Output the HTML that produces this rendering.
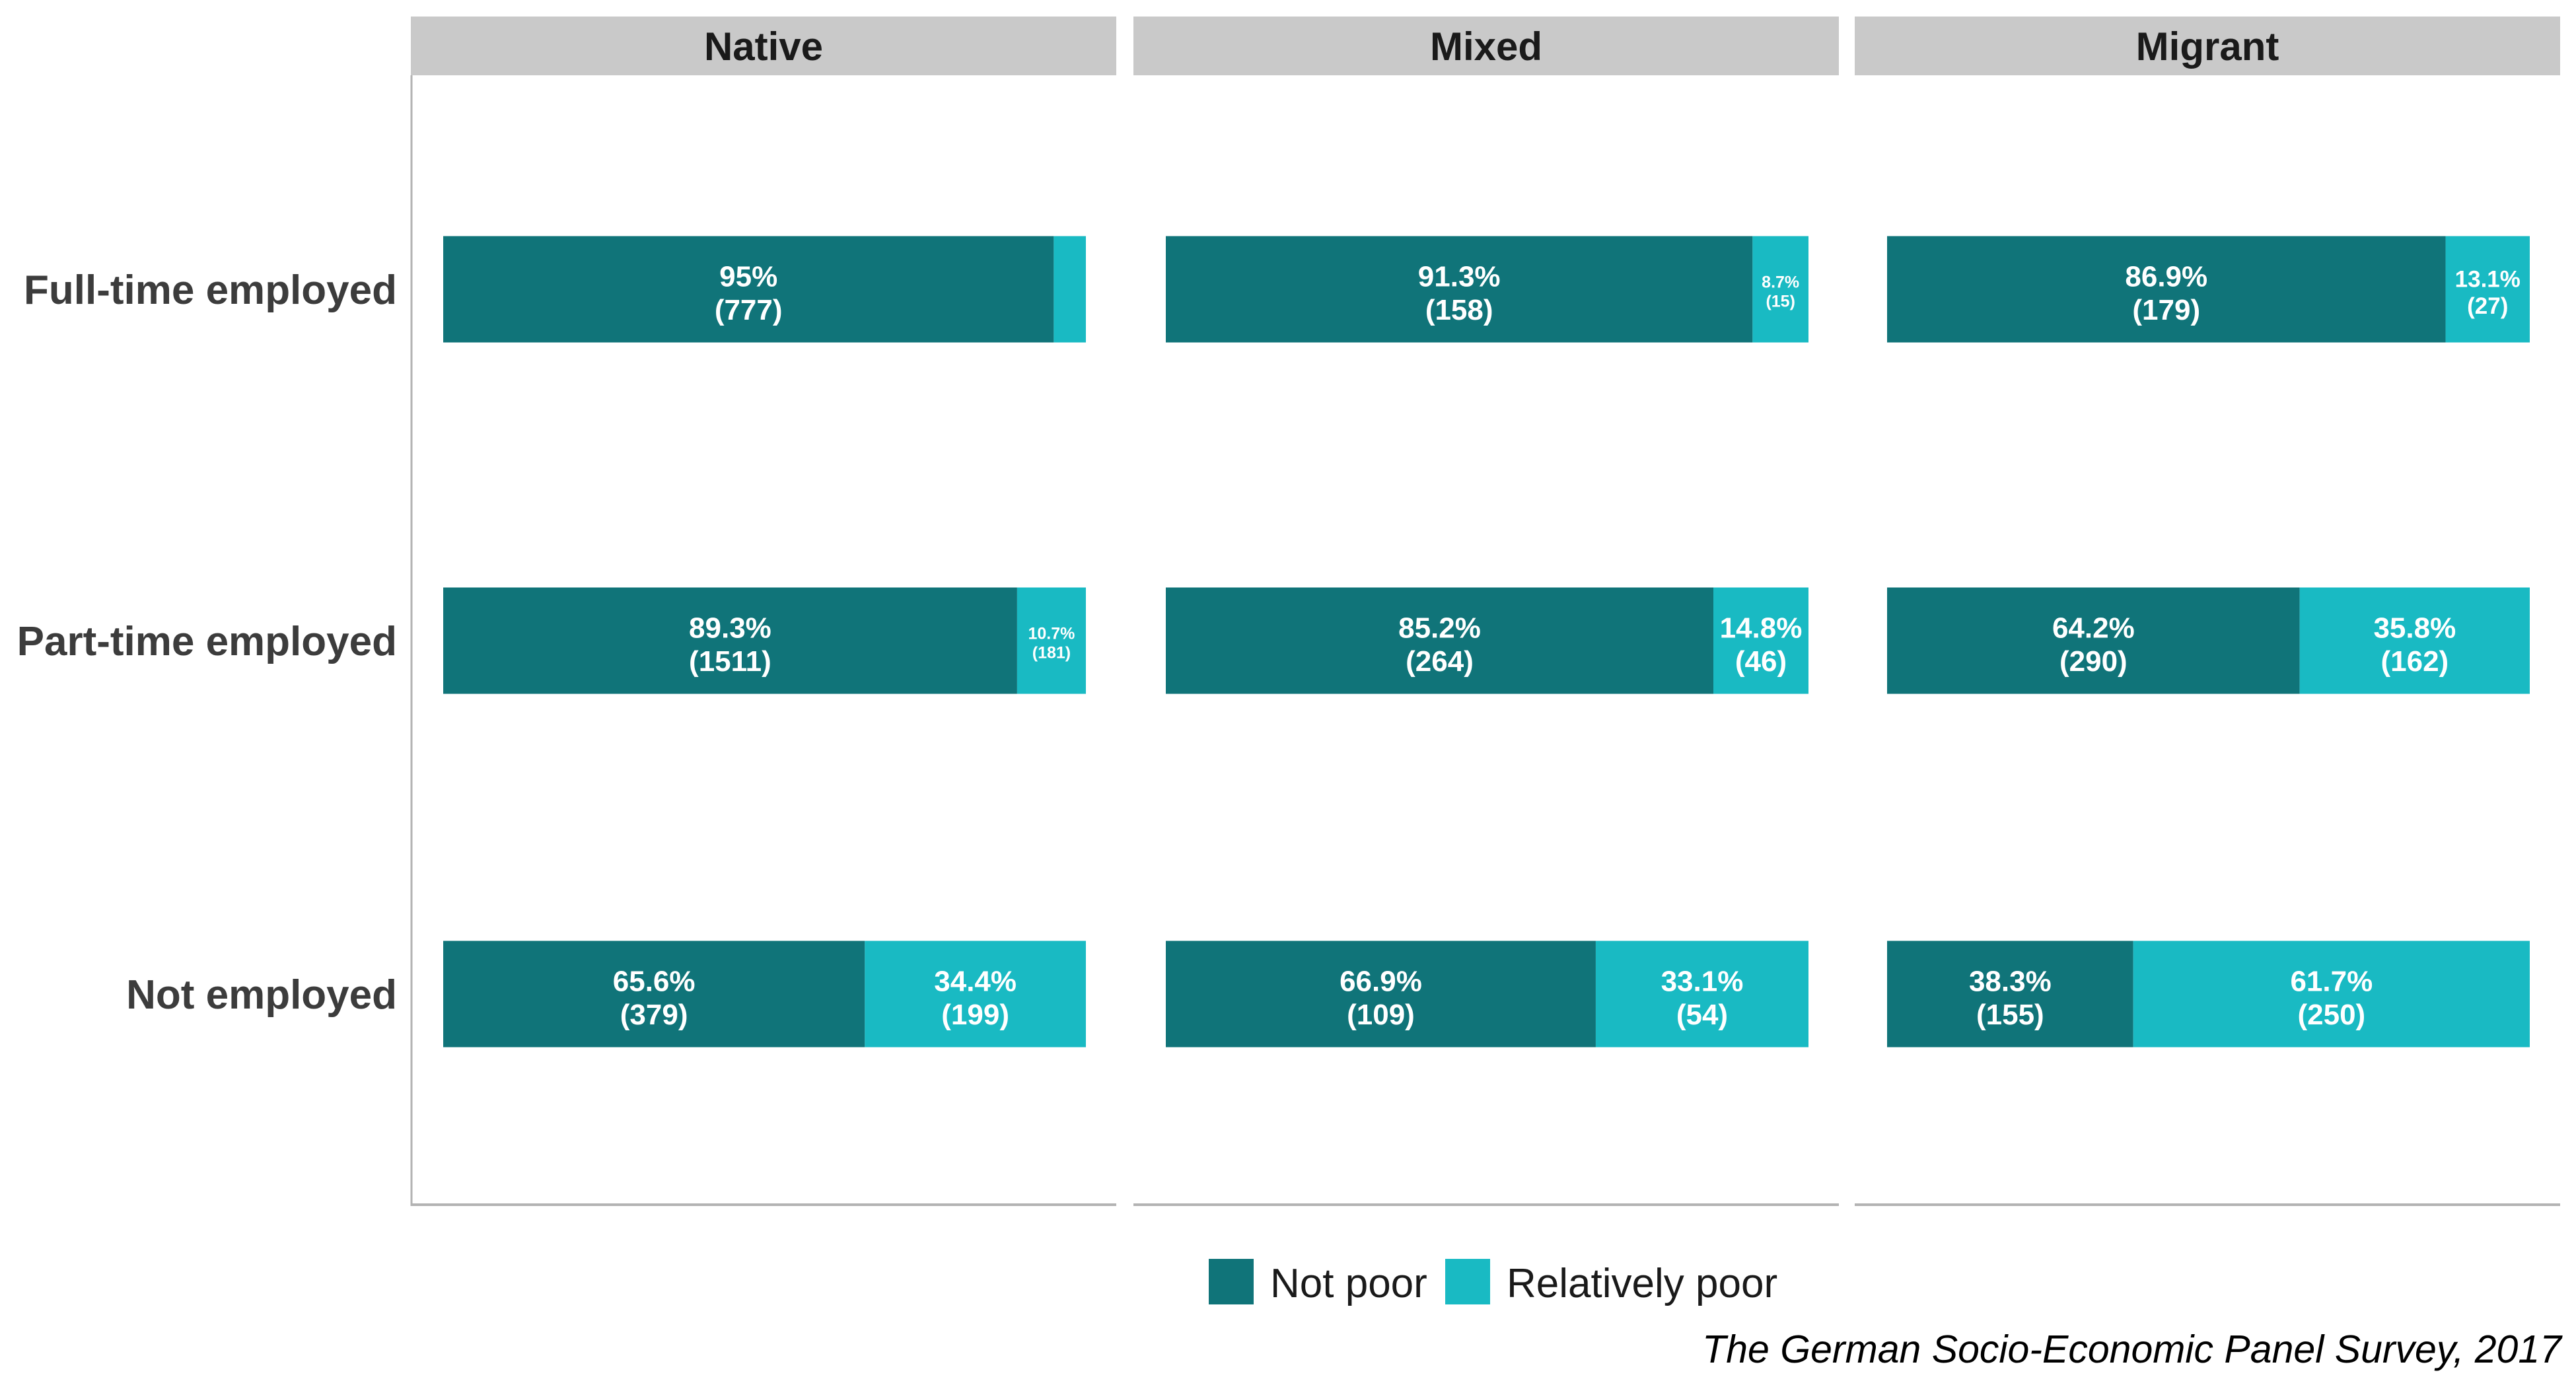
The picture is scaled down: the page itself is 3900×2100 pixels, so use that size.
<!DOCTYPE html>
<html><head><meta charset="utf-8"><style>
body{margin:0;background:#fff;}
svg{display:block;font-family:"Liberation Sans",sans-serif;}
</style></head><body>
<svg id="chart" width="3900" height="2100" viewBox="0 0 3900 2100" xmlns="http://www.w3.org/2000/svg">
<g id="panels"></g>
<g id="ylabels"></g>
<g>
 <rect x="1830" y="1906" width="68" height="69" fill="#107479"/>
 <text x="1923" y="1964" font-size="62" fill="#1a1a1a">Not poor</text>
 <rect x="2188" y="1906" width="68" height="69" fill="#19BAC3"/>
 <text x="2281" y="1964" font-size="62" fill="#1a1a1a">Relatively poor</text>
</g>
<text x="3878" y="2063" font-size="59" font-style="italic" text-anchor="end" fill="#000">The German Socio-Economic Panel Survey, 2017</text>
</svg>
<script>
const facets = ["Native", "Mixed", "Migrant"];
const categories = ["Full-time employed", "Part-time employed", "Not employed"];
const notPoorPct = [[95, 89.3, 65.6], [91.3, 85.2, 66.9], [86.9, 64.2, 38.3]];
const notPoorN = [[777, 1511, 379], [158, 264, 109], [179, 290, 155]];
const poorPct = [[5, 10.7, 34.4], [8.7, 14.8, 33.1], [13.1, 35.8, 61.7]];
const poorN = [[41, 181, 199], [15, 46, 54], [27, 162, 250]];

const NS = "http://www.w3.org/2000/svg";
const panelX = [622, 1716, 2808], panelW = 1068;
const stripY = 25, stripH = 89, panelBottom = 1824;
const barInset = 49, barW = 973, barH = 161;
const rowY = [438, 970, 1505];
const panels = document.getElementById('panels');
const ylab = document.getElementById('ylabels');
function mk(tag, attrs, parent){const e=document.createElementNS(NS,tag);for(const k in attrs)e.setAttribute(k,attrs[k]);parent.appendChild(e);return e;}
function xScale(p, v){return panelX[p]+barInset+v/100*barW;}
function label(parent, cx, cy, w, pct, n){
  let fs = w<60?0:(w<110?25:(w<135?35:44));
  if(!fs) return;
  const t=mk('text',{x:cx,y:cy-fs*0.1,'text-anchor':'middle','font-size':fs,'font-weight':'bold',fill:'#fff'},parent);
  
  
  const a=mk('tspan',{x:cx,dy:0},t); a.textContent=pct+'%';
  const b=mk('tspan',{x:cx,dy:fs*1.15},t); b.textContent='('+n+')';
}
facets.forEach((f,p)=>{
  const g=mk('g',{},panels);
  
  
  const s=mk('rect',{x:panelX[p],y:stripY,width:panelW,height:stripH,fill:'#C9C9C9'},g);
  
  
  const st=mk('text',{x:panelX[p]+panelW/2,y:stripY+66,'text-anchor':'middle','font-size':60,'font-weight':'bold',fill:'#1a1a1a'},g);
  st.textContent=f;
  
  
  const bl=mk('line',{x1:panelX[p],x2:panelX[p]+panelW,y1:panelBottom,y2:panelBottom,stroke:'#b3b3b3','stroke-width':4},g);
  
  
  if(p===0){
    const al=mk('line',{x1:panelX[p]+1,x2:panelX[p]+1,y1:stripY+stripH,y2:panelBottom+2,stroke:'#b3b3b3','stroke-width':3},g);
    
    
  }
  categories.forEach((c,r)=>{
    const y0=rowY[r]-barH/2;
    const x0=xScale(p,0), x1=xScale(p,notPoorPct[p][r]), x2=xScale(p,notPoorPct[p][r]+poorPct[p][r]);
    const b1=mk('rect',{x:x0,y:y0,width:x1-x0,height:barH,fill:'#107479'},g);
    
    
    const b2=mk('rect',{x:x1,y:y0,width:Math.min(x2,xScale(p,100))-x1,height:barH,fill:'#19BAC3'},g);
    
    
    label(g,(x0+x1)/2,rowY[r],x1-x0,notPoorPct[p][r],notPoorN[p][r]);
    label(g,(x1+x2)/2,rowY[r],x2-x1,poorPct[p][r],poorN[p][r]);
  });
});
categories.forEach((c,r)=>{
  const t=mk('text',{x:601,y:rowY[r]+22,'text-anchor':'end','font-size':62,'font-weight':'bold',fill:'#3c3c3c'},ylab);
  t.textContent=c;
  
  
});
</script>
</body></html>
